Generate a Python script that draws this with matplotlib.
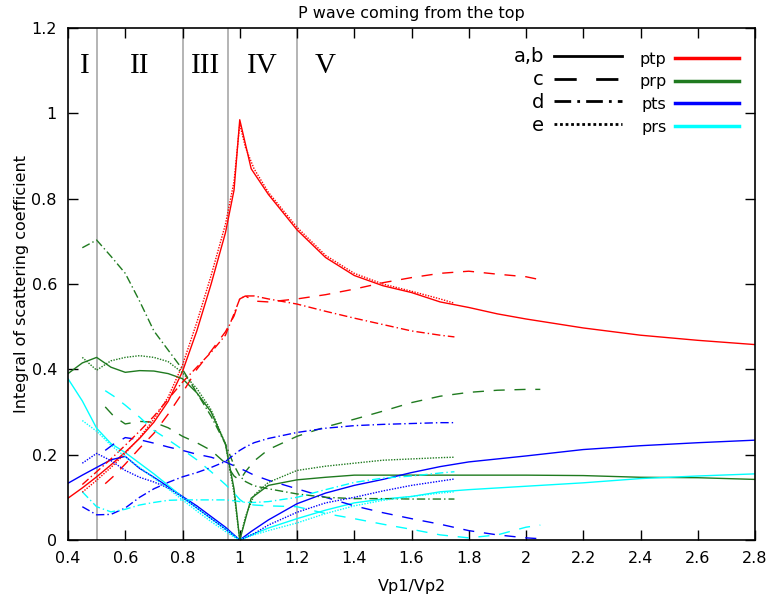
import matplotlib
matplotlib.use("Agg")
import matplotlib.pyplot as plt
from matplotlib.lines import Line2D

plt.rcParams['font.family'] = ['DejaVu Sans']

# ---------------- data ----------------
# a,b : solid curves
x_ab = [0.40, 0.45, 0.50, 0.55, 0.60, 0.65, 0.70, 0.75, 0.80, 0.85, 0.90, 0.95,
        0.98, 1.00, 1.04, 1.10, 1.20, 1.30, 1.40, 1.50, 1.60, 1.70, 1.80, 1.90,
        2.00, 2.20, 2.40, 2.60, 2.80]
ptp_ab = [0.098, 0.122, 0.148, 0.176, 0.206, 0.238, 0.276, 0.325, 0.395, 0.490, 0.600, 0.720,
          0.820, 0.985, 0.870, 0.810, 0.727, 0.662, 0.620, 0.596, 0.580, 0.558, 0.545, 0.530,
          0.518, 0.497, 0.480, 0.468, 0.458]
prp_ab = [0.390, 0.415, 0.428, 0.405, 0.393, 0.397, 0.396, 0.390, 0.378, 0.345, 0.300, 0.225,
          0.120, 0.000, 0.098, 0.128, 0.141, 0.147, 0.152, 0.152, 0.152, 0.152, 0.152, 0.152,
          0.152, 0.151, 0.147, 0.146, 0.142]
pts_ab = [0.133, 0.152, 0.170, 0.188, 0.196, 0.168, 0.147, 0.125, 0.102, 0.080, 0.055, 0.030,
          0.012, 0.000, 0.020, 0.047, 0.085, 0.110, 0.128, 0.142, 0.158, 0.172, 0.183, 0.190,
          0.197, 0.212, 0.221, 0.228, 0.234]
prs_ab = [0.378, 0.326, 0.262, 0.226, 0.205, 0.180, 0.155, 0.128, 0.100, 0.075, 0.050, 0.026,
          0.010, 0.000, 0.012, 0.028, 0.050, 0.070, 0.087, 0.096, 0.102, 0.113, 0.118, 0.122,
          0.126, 0.134, 0.144, 0.150, 0.155]

# c : dashed curves
x_c = [0.53, 0.56, 0.60, 0.65, 0.70, 0.75, 0.80, 0.85, 0.90, 0.95, 0.98, 1.00, 1.02,
       1.05, 1.10, 1.20, 1.30, 1.40, 1.50, 1.60, 1.70, 1.80, 1.90, 2.00, 2.05]
ptp_c = [0.132, 0.150, 0.178, 0.215, 0.250, 0.295, 0.345, 0.400, 0.443, 0.488, 0.525, 0.565, 0.572,
         0.560, 0.558, 0.565, 0.575, 0.588, 0.603, 0.615, 0.625, 0.630, 0.623, 0.617, 0.610]
prp_c = [0.312, 0.290, 0.272, 0.278, 0.276, 0.263, 0.243, 0.228, 0.210, 0.180, 0.150, 0.140, 0.160,
         0.185, 0.212, 0.243, 0.265, 0.283, 0.302, 0.322, 0.337, 0.346, 0.351, 0.353, 0.353]
pts_c = [0.210, 0.225, 0.240, 0.235, 0.227, 0.218, 0.210, 0.201, 0.194, 0.183, 0.174, 0.168, 0.162,
         0.152, 0.140, 0.120, 0.100, 0.080, 0.064, 0.050, 0.037, 0.022, 0.012, 0.005, 0.003]
prs_c = [0.350, 0.337, 0.316, 0.288, 0.257, 0.235, 0.212, 0.188, 0.160, 0.130, 0.110, 0.095, 0.085,
         0.082, 0.080, 0.078, 0.062, 0.050, 0.037, 0.025, 0.012, 0.005, 0.012, 0.030, 0.035]

# d : dash-dot curves
x_d = [0.45, 0.50, 0.55, 0.60, 0.65, 0.70, 0.75, 0.80, 0.85, 0.90, 0.95, 0.98,
       1.00, 1.02, 1.05, 1.10, 1.20, 1.30, 1.40, 1.50, 1.60, 1.70, 1.75]
ptp_d = [0.130, 0.160, 0.190, 0.222, 0.255, 0.290, 0.330, 0.370, 0.405, 0.440, 0.480, 0.530,
         0.565, 0.572, 0.572, 0.565, 0.553, 0.536, 0.520, 0.505, 0.490, 0.480, 0.476]
prp_d = [0.685, 0.703, 0.665, 0.625, 0.560, 0.490, 0.445, 0.400, 0.345, 0.290, 0.225, 0.175,
         0.150, 0.137, 0.127, 0.120, 0.108, 0.100, 0.097, 0.097, 0.096, 0.096, 0.096]
pts_d = [0.078, 0.059, 0.060, 0.075, 0.100, 0.120, 0.135, 0.148, 0.158, 0.170, 0.184, 0.200,
         0.210, 0.218, 0.228, 0.238, 0.252, 0.262, 0.268, 0.271, 0.273, 0.275, 0.275]
prs_d = [0.113, 0.078, 0.066, 0.072, 0.082, 0.088, 0.093, 0.094, 0.094, 0.094, 0.094, 0.092,
         0.090, 0.088, 0.088, 0.090, 0.100, 0.118, 0.135, 0.145, 0.150, 0.157, 0.160]

# e : dotted curves
x_e = [0.45, 0.50, 0.55, 0.60, 0.65, 0.70, 0.75, 0.80, 0.85, 0.90, 0.95, 0.98,
       1.00, 1.02, 1.05, 1.10, 1.20, 1.30, 1.40, 1.50, 1.60, 1.70, 1.75]
ptp_e = [0.112, 0.140, 0.170, 0.203, 0.240, 0.283, 0.335, 0.410, 0.510, 0.620, 0.740, 0.840,
         0.975, 0.920, 0.870, 0.815, 0.733, 0.667, 0.625, 0.600, 0.583, 0.565, 0.555]
prp_e = [0.428, 0.398, 0.420, 0.428, 0.432, 0.428, 0.418, 0.392, 0.355, 0.305, 0.225, 0.110,
         0.000, 0.055, 0.105, 0.135, 0.163, 0.173, 0.180, 0.187, 0.190, 0.193, 0.194]
pts_e = [0.180, 0.203, 0.186, 0.163, 0.147, 0.136, 0.122, 0.100, 0.075, 0.050, 0.025, 0.010,
         0.000, 0.006, 0.015, 0.035, 0.065, 0.087, 0.100, 0.115, 0.128, 0.138, 0.143]
prs_e = [0.280, 0.255, 0.222, 0.195, 0.170, 0.145, 0.120, 0.094, 0.068, 0.043, 0.020, 0.007,
         0.000, 0.005, 0.012, 0.022, 0.040, 0.062, 0.080, 0.093, 0.102, 0.110, 0.113]

# region boundaries and names
region_bounds = [0.5, 0.8, 0.96, 1.2]
region_names = ['I', 'II', 'III', 'IV', 'V']
region_label_x = [0.46, 0.65, 0.88, 1.08, 1.30]
region_label_y = 1.11

x_ticks = [0.4, 0.6, 0.8, 1.0, 1.2, 1.4, 1.6, 1.8, 2.0, 2.2, 2.4, 2.6, 2.8]
y_ticks = [0.0, 0.2, 0.4, 0.6, 0.8, 1.0, 1.2]

case_labels = ['a,b', 'c', 'd', 'e']
wave_labels = ['ptp', 'prp', 'pts', 'prs']

# ---------------- styles ----------------
colors = {'ptp': '#ff0000', 'prp': '#1f7a1f', 'pts': '#0000ff', 'prs': '#00ffff'}
styles = {'a,b': '-', 'c': (0, (8, 7)), 'd': (0, (6, 2.2, 1, 2.2)), 'e': (0, (1, 1))}
fs = 11.5

fig = plt.figure(figsize=(7.71, 6.0), dpi=100)
ax = fig.add_axes([68 / 771, 60 / 600, 687 / 771, 512 / 600])

for xb in region_bounds:
    ax.axvline(xb, color='#a0a0a0', lw=1.1, zorder=1)

curves = [
    ('a,b', x_ab, [ptp_ab, prp_ab, pts_ab, prs_ab]),
    ('c', x_c, [ptp_c, prp_c, pts_c, prs_c]),
    ('d', x_d, [ptp_d, prp_d, pts_d, prs_d]),
    ('e', x_e, [ptp_e, prp_e, pts_e, prs_e]),
]
for case, xs, ys_list in curves:
    for wave, ys in zip(wave_labels, ys_list):
        ax.plot(xs, ys, color=colors[wave], lw=1.0, linestyle=styles[case], zorder=2)

for name, lx in zip(region_names, region_label_x):
    ax.text(lx, region_label_y, name, ha='center', va='center',
            fontsize=21, family=['Liberation Serif', 'DejaVu Serif'])

ax.set_xlim(0.4, 2.8)
ax.set_ylim(0, 1.2)
ax.set_xticks(x_ticks)
ax.set_xticklabels(['%g' % v for v in x_ticks])
ax.set_yticks(y_ticks)
ax.set_yticklabels(['%g' % v for v in y_ticks])
ax.tick_params(direction='in', top=True, right=True, length=7, width=1,
               labelsize=fs, pad=8)
for sp in ax.spines.values():
    sp.set_linewidth(1.2)

ax.set_title('P wave coming from the top', fontsize=fs, pad=7)
ax.set_xlabel('Vp1/Vp2', fontsize=fs, labelpad=9)
ax.set_ylabel('Integral of scattering coefficient', fontsize=fs, labelpad=2)

# legend: line styles (cases) and colours (wave types)
case_handles = [Line2D([], [], color='black', lw=2, linestyle=styles[c]) for c in case_labels]
leg1 = ax.legend(case_handles, case_labels, fontsize=14, markerfirst=False, frameon=False,
                 handlelength=3.5, handletextpad=0.5, labelspacing=0.2,
                 loc='upper right', bbox_to_anchor=(0.806, 0.962),
                 borderaxespad=0, borderpad=0)
ax.add_artist(leg1)
wave_handles = [Line2D([], [], color=colors[w], lw=2.5) for w in wave_labels]
ax.legend(wave_handles, wave_labels, fontsize=fs, markerfirst=False, frameon=False,
          handlelength=4.0, handletextpad=0.5, labelspacing=0.48,
          loc='upper right', bbox_to_anchor=(0.976, 0.954),
          borderaxespad=0, borderpad=0)

fig.savefig('out.png', dpi=100)
